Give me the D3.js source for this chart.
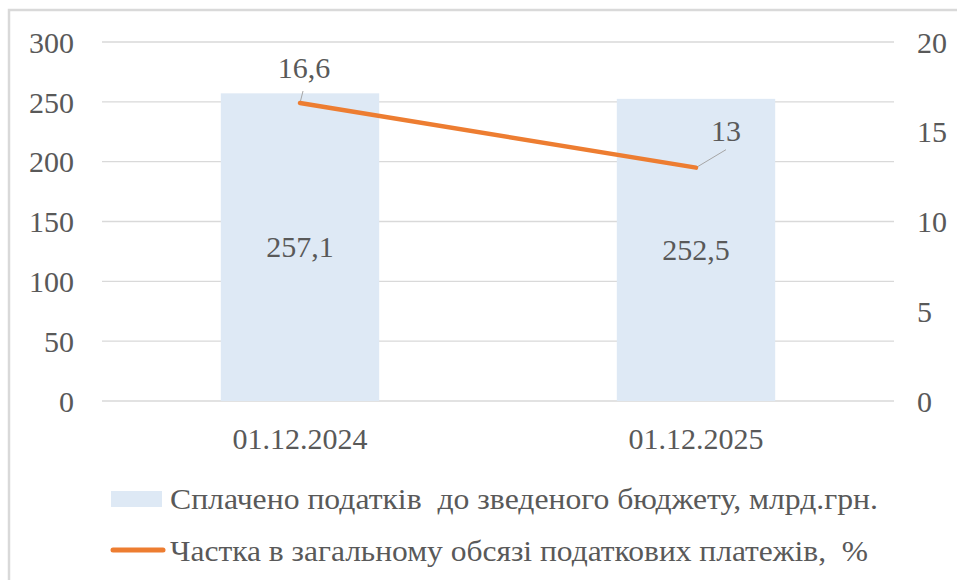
<!DOCTYPE html>
<html>
<head>
<meta charset="utf-8">
<script src="https://cdn.jsdelivr.net/npm/d3@7"></script>
<style>
  body { margin: 0; background: #fff; }
</style>
</head>
<body>
<div id="chart"></div>
<script>
// ---------------------------------- DATA ---------------------------------- //

let categories = ['01.12.2024', '01.12.2025'];
let paid_values = [257.1, 252.5];
let share_values = [16.6, 13];
let paid_labels = ['257,1', '252,5'];
let share_labels = ['16,6', '13'];
let left_ticks = [0, 50, 100, 150, 200, 250, 300];
let right_ticks = [0, 5, 10, 15, 20];
let legend_labels = ['Сплачено податків  до зведеного бюджету, млрд.грн.', 'Частка в загальному обсязі податкових платежів,  %'];

// ---------------------------------- SETTINGS ---------------------------------- //

let img_width = 957;
let img_height = 580;
let plot_left = 102;
let plot_right = 894;
let plot_top = 42;
let plot_bottom = 401;
let font_size = 30;
let font_family = '"Liberation Serif", Tinos, "Times New Roman", Times, "DejaVu Serif", serif';
let text_color = '#595959';
let bar_color = '#dee9f5';
let line_color = '#ed7d31';
let grid_color = '#d9d9d9';
let leader_color = '#a6a6a6';
let legend_text_widths = [708, 698];

function styleText(sel) {
  sel.style('font-family', font_family)
    .style('font-size', `${font_size}px`)
    .style('fill', text_color)
    .style('white-space', 'pre');
}

// ---------------------------------- SCALES ---------------------------------- //

let x = d3.scaleBand().domain(categories).range([plot_left, plot_right]).paddingInner(0.6).paddingOuter(0.3);
let y_left = d3.scaleLinear().domain([0, 300]).range([plot_bottom, plot_top]);
let y_right = d3.scaleLinear().domain([0, 20]).range([plot_bottom, plot_top]);

let svg = d3.select('#chart').append('svg')
  .attr('width', img_width)
  .attr('height', img_height);

// outer chart border
svg.append('rect')
  .attr('x', 9).attr('y', 10)
  .attr('width', img_width + 20).attr('height', img_height + 20)
  .attr('fill', 'none')
  .attr('stroke', grid_color)
  .attr('stroke-width', 2.5);

// ---------------------------------- GRID + AXES ---------------------------------- //

svg.append('g').selectAll('line')
  .data(left_ticks)
  .enter().append('line')
  .attr('x1', plot_left).attr('x2', plot_right)
  .attr('y1', d => y_left(d)).attr('y2', d => y_left(d))
  .attr('stroke', grid_color)
  .attr('stroke-width', 1.3);

let left_axis = svg.append('g')
  .attr('transform', `translate(${plot_left - 28},0)`)
  .call(d3.axisLeft(y_left).tickValues(left_ticks).tickSize(0).tickPadding(0));
left_axis.select('.domain').remove();
left_axis.attr('font-family', null);
left_axis.selectAll('text').call(styleText).attr('dy', '0.34em');

let right_axis = svg.append('g')
  .attr('transform', `translate(${plot_right + 23},0)`)
  .call(d3.axisRight(y_right).tickValues(right_ticks).tickSize(0).tickPadding(0));
right_axis.select('.domain').remove();
right_axis.attr('font-family', null);
right_axis.selectAll('text').call(styleText).attr('dy', '0.34em');

let bottom_axis = svg.append('g')
  .attr('transform', `translate(0,${plot_bottom})`)
  .call(d3.axisBottom(x).tickSize(0).tickPadding(0));
bottom_axis.select('.domain').remove();
bottom_axis.attr('font-family', null);
bottom_axis.selectAll('text').call(styleText).attr('dy', '1.6em');

// ---------------------------------- BARS ---------------------------------- //

svg.append('g').selectAll('rect')
  .data(paid_values)
  .enter().append('rect')
  .attr('x', (d, i) => x(categories[i]))
  .attr('y', d => y_left(d))
  .attr('width', x.bandwidth())
  .attr('height', d => plot_bottom - y_left(d))
  .attr('fill', bar_color);

svg.append('g').selectAll('text')
  .data(paid_values)
  .enter().append('text')
  .attr('x', (d, i) => x(categories[i]) + x.bandwidth() / 2)
  .attr('y', d => (y_left(d) + plot_bottom) / 2)
  .attr('dy', '0.34em')
  .attr('text-anchor', 'middle')
  .call(styleText)
  .text((d, i) => paid_labels[i]);

// ---------------------------------- LINE ---------------------------------- //

let cx = (d, i) => x(categories[i]) + x.bandwidth() / 2;

// leader lines for labels (offsets relative to the point)
let leader_offsets = [[3, -12], [30, -18]];
svg.append('g').selectAll('line')
  .data(share_values)
  .enter().append('line')
  .attr('x1', (d, i) => cx(d, i))
  .attr('y1', d => y_right(d))
  .attr('x2', (d, i) => cx(d, i) + leader_offsets[i][0])
  .attr('y2', (d, i) => y_right(d) + leader_offsets[i][1])
  .attr('stroke', leader_color)
  .attr('stroke-width', 1);

let line = d3.line()
  .x((d, i) => cx(d, i))
  .y(d => y_right(d));

svg.append('path')
  .datum(share_values)
  .attr('d', line)
  .attr('fill', 'none')
  .attr('stroke', line_color)
  .attr('stroke-width', 4.5)
  .attr('stroke-linecap', 'round');

let label_offsets = [[4, -25], [30, -27]];
svg.append('g').selectAll('text')
  .data(share_values)
  .enter().append('text')
  .attr('x', (d, i) => cx(d, i) + label_offsets[i][0])
  .attr('y', (d, i) => y_right(d) + label_offsets[i][1])
  .attr('text-anchor', 'middle')
  .call(styleText)
  .text((d, i) => share_labels[i]);

// ---------------------------------- LEGEND ---------------------------------- //

let legend = svg.append('g').attr('transform', 'translate(111,0)');

legend.append('rect')
  .attr('x', 0).attr('y', 491)
  .attr('width', 51).attr('height', 16)
  .attr('fill', bar_color);

legend.append('line')
  .attr('x1', 2).attr('x2', 52)
  .attr('y1', 550).attr('y2', 550)
  .attr('stroke', line_color)
  .attr('stroke-width', 5)
  .attr('stroke-linecap', 'round');

legend.selectAll('text.legend')
  .data(legend_labels)
  .enter().append('text')
  .attr('class', 'legend')
  .attr('x', 59)
  .attr('y', (d, i) => 509 + i * 52)
  .attr('textLength', (d, i) => legend_text_widths[i])
  .attr('lengthAdjust', 'spacingAndGlyphs')
  .call(styleText)
  .text(d => d);
</script>
</body>
</html>
